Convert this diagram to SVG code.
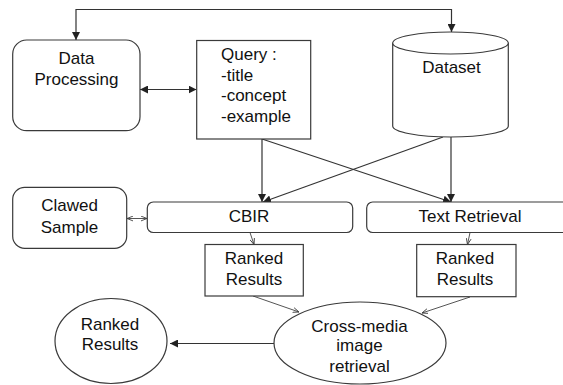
<svg xmlns="http://www.w3.org/2000/svg" width="563" height="385" viewBox="0 0 563 385">
<style>
.box{fill:#fff;stroke:#3a3a3a;stroke-width:1.2}
.t{font-family:"Liberation Sans",Arial,sans-serif;font-size:17px;fill:#111}
.c{text-anchor:middle}
.ln{fill:none;stroke:#333;stroke-width:1.2}
.thin{fill:none;stroke:#555;stroke-width:1}
</style>
<defs>
<marker id="a" viewBox="0 0 10 10" refX="10" refY="5" markerWidth="8" markerHeight="8" markerUnits="userSpaceOnUse" orient="auto-start-reverse">
<path d="M0,0 L10,5 L0,10 Z" fill="#222"/>
</marker>
<marker id="s" viewBox="0 0 10 10" refX="10" refY="5" markerWidth="6" markerHeight="6" markerUnits="userSpaceOnUse" orient="auto-start-reverse">
<path d="M0,1 L10,5 L0,9" fill="none" stroke="#444" stroke-width="1.5"/>
</marker>
</defs>
<rect width="563" height="385" fill="#fff"/>
<g id="connectors">
<path class="ln" d="M76,40 V9.5 H451.5 V32" marker-start="url(#a)" marker-end="url(#a)"/>
<line class="ln" x1="140" y1="89.5" x2="196.5" y2="89.5" marker-start="url(#a)" marker-end="url(#a)"/>
<line class="ln" x1="262" y1="139" x2="262" y2="202" marker-end="url(#a)"/>
<line class="ln" x1="451" y1="137" x2="451" y2="202" marker-end="url(#a)"/>
<line class="ln" x1="262" y1="139" x2="451" y2="202" marker-end="url(#a)"/>
<line class="ln" x1="443" y1="137" x2="263" y2="202" marker-end="url(#a)"/>
<line class="thin" x1="127" y1="218.5" x2="147" y2="218.5" marker-start="url(#s)" marker-end="url(#s)"/>
<line class="thin" x1="250" y1="232.5" x2="254" y2="244.5" marker-end="url(#s)"/>
<line class="thin" x1="470" y1="232.5" x2="467.5" y2="244.5" marker-end="url(#s)"/>
<line class="thin" x1="253" y1="296" x2="299" y2="312" marker-end="url(#s)"/>
<line class="thin" x1="470" y1="297" x2="422" y2="313" marker-end="url(#s)"/>
<line class="ln" x1="274" y1="343.5" x2="170" y2="343.5" marker-end="url(#a)"/>
</g>
<g id="data-processing">
<rect class="box" x="12.7" y="40" width="127.3" height="90.7" rx="14"/>
<text class="t c" x="76.5" y="64">Data</text>
<text class="t c" x="76.5" y="85">Processing</text>
</g>
<g id="query">
<rect class="box" x="196.7" y="40.5" width="114" height="98.5"/>
<text class="t" x="221" y="60">Query :</text>
<text class="t" x="221" y="80.5">-title</text>
<text class="t" x="221" y="101">-concept</text>
<text class="t" x="221" y="121.5">-example</text>
</g>
<g id="dataset">
<path class="box" d="M392.7,43 V126 A57.8,11 0 0 0 508.3,126 V43"/>
<ellipse class="box" cx="450.5" cy="43" rx="57.8" ry="11"/>
<text class="t c" x="451.5" y="73">Dataset</text>
</g>
<g id="clawed-sample">
<rect class="box" x="12.7" y="187.3" width="114" height="61" rx="12"/>
<text class="t c" x="69.5" y="210.7">Clawed</text>
<text class="t c" x="69.5" y="232.7">Sample</text>
</g>
<g id="cbir">
<rect class="box" x="147.3" y="202" width="205.4" height="30.5" rx="6"/>
<text class="t c" x="249" y="222">CBIR</text>
</g>
<g id="text-retrieval">
<rect class="box" x="366.7" y="202" width="205" height="30.5" rx="6"/>
<text class="t c" x="470" y="222">Text Retrieval</text>
</g>
<g id="ranked-cbir">
<rect class="box" x="205" y="244.5" width="98.3" height="51.5"/>
<text class="t c" x="254" y="263.5">Ranked</text>
<text class="t c" x="254" y="285">Results</text>
</g>
<g id="ranked-text">
<rect class="box" x="416.7" y="244.5" width="99.3" height="52.2"/>
<text class="t c" x="465" y="263.5">Ranked</text>
<text class="t c" x="465" y="285">Results</text>
</g>
<g id="cross-media">
<ellipse class="box" cx="360" cy="343" rx="86" ry="41"/>
<text class="t c" x="359.5" y="331.7">Cross-media</text>
<text class="t c" x="359.5" y="351">image</text>
<text class="t c" x="359.5" y="371.7">retrieval</text>
</g>
<g id="ranked-final">
<ellipse class="box" cx="111" cy="341" rx="56" ry="42.5"/>
<text class="t c" x="110" y="329.5">Ranked</text>
<text class="t c" x="110" y="350">Results</text>
</g>
</svg>
